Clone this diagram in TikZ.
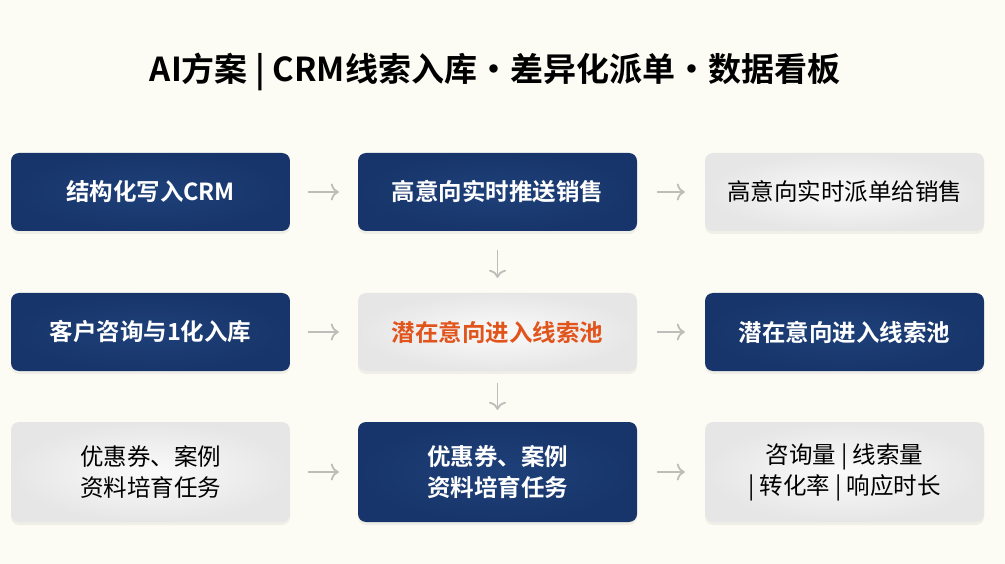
\documentclass[tikz,border=0pt]{standalone}
\usepackage{fontspec}
\setmainfont{Noto Sans CJK SC}[BoldFont={Noto Sans CJK SC Bold}]
\usepackage{tikz}
\usetikzlibrary{arrows,arrows.meta}
\usetikzlibrary{shadows,positioning}
\definecolor{paper}{HTML}{FCFCF4}
\definecolor{navy}{HTML}{1E4079}
\definecolor{navyedge}{HTML}{17356A}
\definecolor{greyin}{HTML}{FAFAFA}
\definecolor{greyout}{HTML}{E6E6E6}
\definecolor{leadorange}{HTML}{E1541C}
\definecolor{arrowgrey}{HTML}{BDBDB9}
\tikzset{>={To[length=8pt,width=17pt,line width=1.8pt]},
  card/.style={rounded corners=8pt, minimum width=279pt, align=center,
    drop shadow={shadow xshift=0pt, shadow yshift=-3pt, opacity=0.10}},
  darkcard/.style={card, inner color=navy, outer color=navyedge, text=white,
    font=\fontsize{23.5}{31}\selectfont\bfseries},
  lightcard/.style={card, inner color=greyin, outer color=greyout, text=black,
    font=\fontsize{23.5}{31}\selectfont},
  flow/.style={->, draw=arrowgrey, line width=1.8pt}}

\begin{document}
\begin{tikzpicture}[x=1pt, y=-1pt, node distance=347pt]
    \fill[paper] (0,0) rectangle (1005,564);
    \useasboundingbox (0,0) rectangle (1005,564);

    \node (title) at (495,72) {\fontsize{33}{36}\selectfont\bfseries AI方案 | CRM线索入库·差异化派单·数据看板};

    % row 1
    \node (a1) [darkcard, minimum height=78pt] at (150.5,192) {结构化写入CRM};
    \node (a2) [darkcard, minimum height=78pt, right of=a1] {高意向实时推送销售};
    \node (a3) [lightcard, minimum height=78pt, right of=a2] {高意向实时派单给销售};

    % row 2
    \node (b1) [darkcard, minimum height=78pt, below of=a1, node distance=140pt] {客户咨询与1化入库};
    \node (b2) [lightcard, minimum height=78pt, right of=b1, text=leadorange, font=\fontsize{23.5}{31}\selectfont\bfseries] {潜在意向进入线索池};
    \node (b3) [darkcard, minimum height=78pt, right of=b2] {潜在意向进入线索池};

    % row 3
    \node (c1) [lightcard, minimum height=100pt, below of=b1, node distance=140pt] {优惠券、案例\\资料培育任务};
    \node (c2) [darkcard, minimum height=100pt, right of=c1] {优惠券、案例\\资料培育任务};
    \node (c3) [lightcard, minimum height=100pt, right of=c2] {咨询量 | 线索量\\| 转化率 | 响应时长};

    \draw[flow, shorten <=18pt, shorten >=19pt] (a1) -- (a2);
    \draw[flow, shorten <=20pt, shorten >=20pt] (a2) -- (a3);
    \draw[flow, shorten <=18pt, shorten >=19pt] (b1) -- (b2);
    \draw[flow, shorten <=20pt, shorten >=20pt] (b2) -- (b3);
    \draw[flow, shorten <=18pt, shorten >=19pt] (c1) -- (c2);
    \draw[flow, shorten <=20pt, shorten >=20pt] (c2) -- (c3);
    \draw[flow, shorten <=19pt, shorten >=15pt] (a2) -- (b2);
    \draw[flow, shorten <=12pt, shorten >=12pt] (b2) -- (c2);
\end{tikzpicture}
\end{document}
